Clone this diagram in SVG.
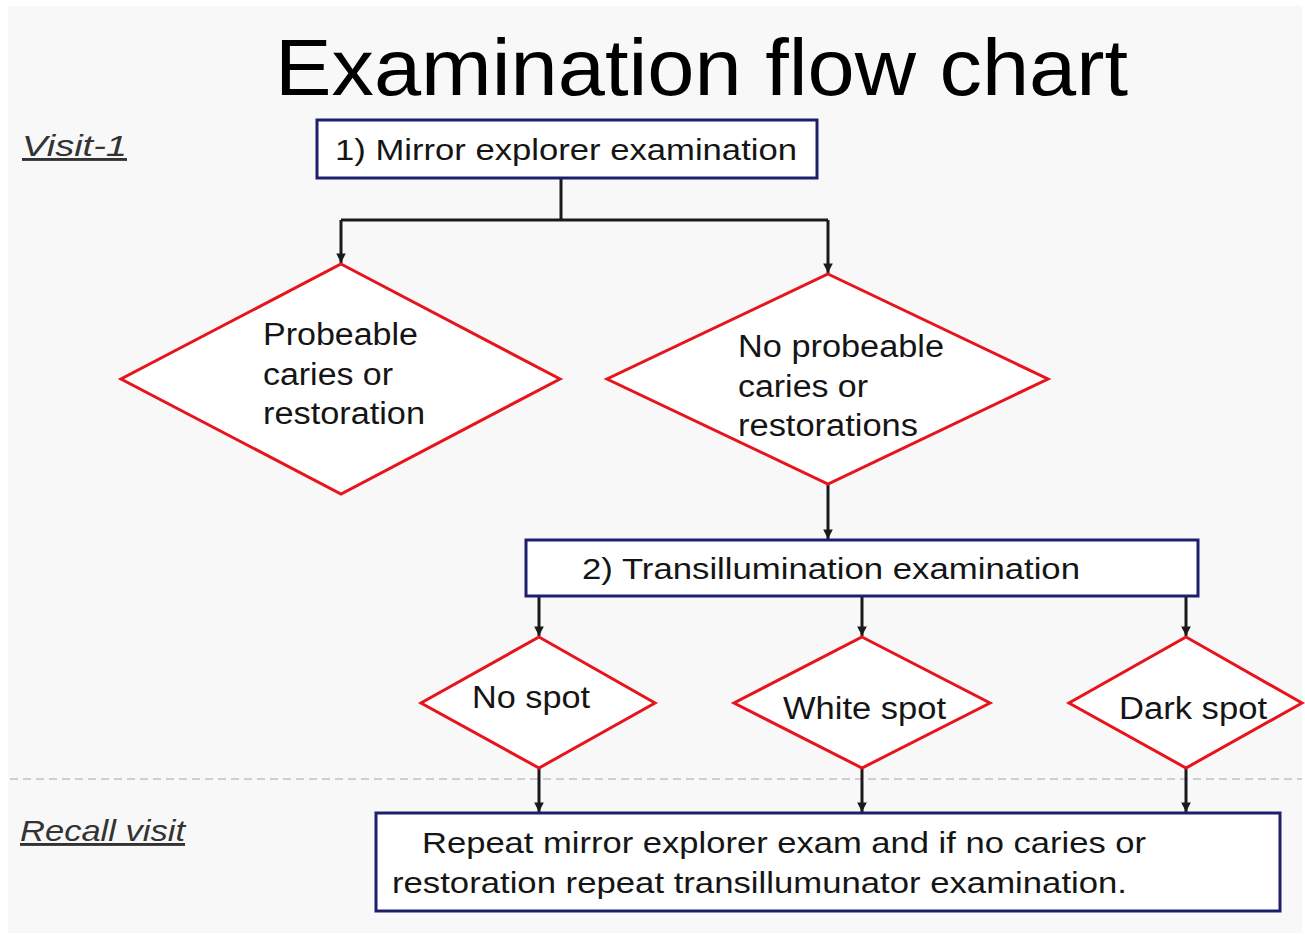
<svg xmlns="http://www.w3.org/2000/svg" width="1305" height="936" viewBox="0 0 1305 936">
<defs>
<style>
.bg{fill:#f8f8f8}
.box{fill:#ffffff;stroke:#1e1e6e;stroke-width:3}
.dia{fill:#ffffff;stroke:#e8141c;stroke-width:3;stroke-linejoin:miter}
.con{fill:none;stroke:#1a1a1a;stroke-width:3}
.t{font-family:"Liberation Sans",Arial,sans-serif;font-size:29px;fill:#151515}
.d{font-family:"Liberation Sans",Arial,sans-serif;font-size:31px;fill:#151515}
.title{font-family:"Liberation Sans",Arial,sans-serif;font-size:80px;fill:#000}
.lab{font-family:"Liberation Sans",Arial,sans-serif;font-size:29px;font-style:italic;fill:#333;text-decoration:underline}
.dash{stroke:#cfcfcf;stroke-width:2;stroke-dasharray:8 5}
</style>
<marker id="arr" viewBox="0 0 10 10" refX="10" refY="5" markerWidth="3.2" markerHeight="3.2" orient="auto" markerUnits="strokeWidth">
<path d="M0,0 L10,5 L0,10 z" fill="#1a1a1a"/>
</marker>
</defs>
<rect class="bg" x="8" y="6" width="1294" height="927"/>
<line class="dash" x1="10" y1="779" x2="1302" y2="779"/>
<text class="title" x="275" y="95" textLength="853" lengthAdjust="spacingAndGlyphs">Examination flow chart</text>
<text class="lab" x="22" y="156" textLength="105" lengthAdjust="spacingAndGlyphs">Visit-1</text>
<text class="lab" x="20" y="841" textLength="165" lengthAdjust="spacingAndGlyphs">Recall visit</text>

<g id="connectors">
<path class="con" d="M561,178 V220 M341,220 H828"/>
<path class="con" d="M341,220 V263" marker-end="url(#arr)"/>
<path class="con" d="M828,220 V273" marker-end="url(#arr)"/>
<path class="con" d="M828,484 V539" marker-end="url(#arr)"/>
<path class="con" d="M539,596 V636" marker-end="url(#arr)"/>
<path class="con" d="M862,596 V636" marker-end="url(#arr)"/>
<path class="con" d="M1186,596 V636" marker-end="url(#arr)"/>
<path class="con" d="M539,768 V812" marker-end="url(#arr)"/>
<path class="con" d="M862,768 V812" marker-end="url(#arr)"/>
<path class="con" d="M1186,768 V812" marker-end="url(#arr)"/>
</g>

<g id="mirror">
<rect class="box" x="317" y="120" width="500" height="58"/>
<text class="t" x="335" y="160" textLength="462" lengthAdjust="spacingAndGlyphs">1) Mirror explorer examination</text>
</g>

<g id="probeable">
<polygon class="dia" points="341,264 560,379 341,494 121,379"/>
<text class="d" x="263" y="345" textLength="155" lengthAdjust="spacingAndGlyphs">Probeable</text>
<text class="d" x="263" y="385" textLength="130" lengthAdjust="spacingAndGlyphs">caries or</text>
<text class="d" x="263" y="424" textLength="162" lengthAdjust="spacingAndGlyphs">restoration</text>
</g>

<g id="noprobeable">
<polygon class="dia" points="828,274 1048,379 828,484 607,379"/>
<text class="d" x="738" y="357" textLength="206" lengthAdjust="spacingAndGlyphs">No probeable</text>
<text class="d" x="738" y="397" textLength="130" lengthAdjust="spacingAndGlyphs">caries or</text>
<text class="d" x="738" y="436" textLength="180" lengthAdjust="spacingAndGlyphs">restorations</text>
</g>

<g id="transillumination">
<rect class="box" x="526" y="540" width="672" height="56"/>
<text class="t" x="582" y="579" textLength="498" lengthAdjust="spacingAndGlyphs">2) Transillumination examination</text>
</g>

<g id="nospot">
<polygon class="dia" points="539,637 655,703 539,768 421,703"/>
<text class="d" x="472" y="708" textLength="118" lengthAdjust="spacingAndGlyphs">No spot</text>
</g>

<g id="whitespot">
<polygon class="dia" points="862,637 990,703 862,768 734,703"/>
<text class="d" x="783" y="719" textLength="163" lengthAdjust="spacingAndGlyphs">White spot</text>
</g>

<g id="darkspot">
<polygon class="dia" points="1186,637 1302,703 1186,768 1069,703"/>
<text class="d" x="1119" y="719" textLength="148" lengthAdjust="spacingAndGlyphs">Dark spot</text>
</g>

<g id="recall">
<rect class="box" x="376" y="813" width="904" height="98"/>
<text class="t" x="422" y="853" textLength="724" lengthAdjust="spacingAndGlyphs">Repeat mirror explorer exam and if no caries or</text>
<text class="t" x="392" y="893" textLength="735" lengthAdjust="spacingAndGlyphs">restoration repeat transillumunator examination.</text>
</g>
</svg>
